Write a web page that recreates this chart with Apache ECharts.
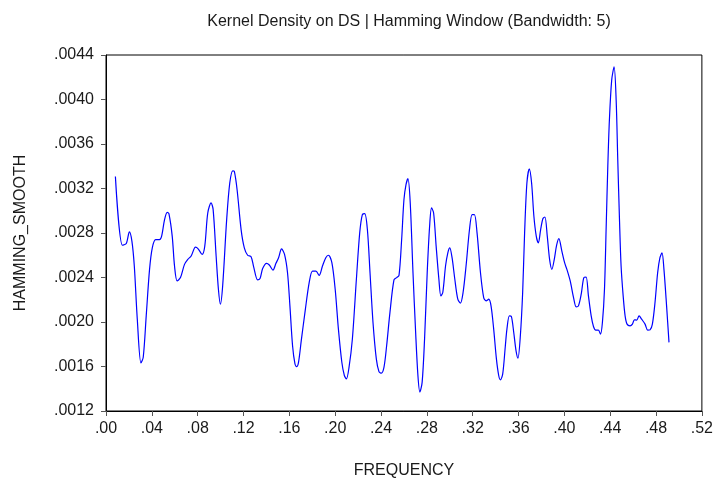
<!DOCTYPE html>
<html>
<head>
<meta charset="utf-8">
<script src="https://cdn.jsdelivr.net/npm/echarts@6/dist/echarts.min.js"></script>
<style>
  html, body { margin: 0; padding: 0; background: #fff; }
  #chart { width: 716px; height: 484px; }
</style>
</head>
<body>
<div id="chart"></div>
<script>
// Smoothed spectral density (Hamming window) against frequency
const frequency = [
  0.0082, 0.0143, 0.0177, 0.0204, 0.0226, 0.0247, 0.0273, 0.0305, 0.0325, 0.0351,
  0.0380, 0.0404, 0.0433, 0.0467, 0.0485, 0.0511, 0.0534, 0.0549, 0.0578, 0.0598,
  0.0621, 0.0650, 0.0685, 0.0714, 0.0743, 0.0781, 0.0804, 0.0839, 0.0862, 0.0888,
  0.0917, 0.0935, 0.0961, 0.0981, 0.0998, 0.1018, 0.1053, 0.1080, 0.1106, 0.1120,
  0.1144, 0.1179, 0.1207, 0.1236, 0.1266, 0.1288, 0.1323, 0.1344, 0.1367, 0.1401,
  0.1425, 0.1457, 0.1483, 0.1506, 0.1532, 0.1558, 0.1584, 0.1605, 0.1628, 0.1649,
  0.1663, 0.1680, 0.1704, 0.1738, 0.1773, 0.1802, 0.1832, 0.1860, 0.1889, 0.1918,
  0.1941, 0.1971, 0.2000, 0.2028, 0.2058, 0.2080, 0.2098, 0.2121, 0.2150, 0.2185,
  0.2214, 0.2237, 0.2258, 0.2281, 0.2304, 0.2330, 0.2359, 0.2382, 0.2403, 0.2426,
  0.2449, 0.2478, 0.2513, 0.2537, 0.2557, 0.2580, 0.2600, 0.2618, 0.2635, 0.2655,
  0.2679, 0.2702, 0.2722, 0.2739, 0.2759, 0.2780, 0.2803, 0.2824, 0.2841, 0.2859,
  0.2881, 0.2905, 0.2922, 0.2939, 0.2963, 0.2983, 0.3000, 0.3020, 0.3044, 0.3070,
  0.3093, 0.3116, 0.3142, 0.3172, 0.3195, 0.3215, 0.3238, 0.3268, 0.3296, 0.3317,
  0.3340, 0.3360, 0.3383, 0.3407, 0.3427, 0.3442, 0.3462, 0.3485, 0.3499, 0.3520,
  0.3538, 0.3558, 0.3578, 0.3595, 0.3616, 0.3636, 0.3653, 0.3673, 0.3694, 0.3714,
  0.3734, 0.3755, 0.3773, 0.3793, 0.3813, 0.3830, 0.3851, 0.3871, 0.3891, 0.3912,
  0.3932, 0.3952, 0.3978, 0.4002, 0.4022, 0.4051, 0.4080, 0.4103, 0.4123, 0.4147,
  0.4170, 0.4190, 0.4210, 0.4234, 0.4254, 0.4274, 0.4297, 0.4315, 0.4332, 0.4350,
  0.4365, 0.4379, 0.4393, 0.4413, 0.4434, 0.4452, 0.4466, 0.4481, 0.4495, 0.4513,
  0.4530, 0.4547, 0.4573, 0.4594, 0.4611, 0.4631, 0.4652, 0.4674, 0.4704, 0.4727,
  0.4748, 0.4768, 0.4791, 0.4814, 0.4834, 0.4852, 0.4869, 0.4892, 0.4913
];

const hammingSmooth = [
  0.003308, 0.002690, 0.002706, 0.002810, 0.002727, 0.002503, 0.002026, 0.001632, 0.001683, 0.002055,
  0.002473, 0.002667, 0.002741, 0.002741, 0.002770, 0.002920, 0.002986, 0.002974, 0.002770, 0.002503,
  0.002369, 0.002399, 0.002518, 0.002563, 0.002593, 0.002673, 0.002658, 0.002607, 0.002682, 0.002980,
  0.003070, 0.003010, 0.002593, 0.002294, 0.002160, 0.002324, 0.002920, 0.003249, 0.003359, 0.003353,
  0.003189, 0.002831, 0.002667, 0.002600, 0.002587, 0.002498, 0.002378, 0.002390, 0.002480, 0.002527,
  0.002512, 0.002467, 0.002527, 0.002578, 0.002658, 0.002607, 0.002443, 0.002145, 0.001787, 0.001623,
  0.001599, 0.001638, 0.001832, 0.002100, 0.002354, 0.002458, 0.002458, 0.002419, 0.002503, 0.002578,
  0.002600, 0.002533, 0.002294, 0.001938, 0.001638, 0.001519, 0.001489, 0.001594, 0.001847, 0.002384,
  0.002801, 0.002966, 0.002974, 0.002831, 0.002443, 0.001996, 0.001668, 0.001554, 0.001540, 0.001594,
  0.001787, 0.002086, 0.002378, 0.002399, 0.002419, 0.002741, 0.003099, 0.003234, 0.003288, 0.003070,
  0.002443, 0.001908, 0.001519, 0.001370, 0.001460, 0.001847, 0.002443, 0.002860, 0.003025, 0.002980,
  0.002682, 0.002384, 0.002235, 0.002265, 0.002503, 0.002622, 0.002667, 0.002578, 0.002384, 0.002205,
  0.002170, 0.002265, 0.002503, 0.002831, 0.002966, 0.002966, 0.002801, 0.002443, 0.002220, 0.002190,
  0.002205, 0.002145, 0.001938, 0.001668, 0.001519, 0.001480, 0.001533, 0.001787, 0.001938, 0.002055,
  0.002049, 0.001908, 0.001743, 0.001675, 0.001878, 0.002265, 0.002801, 0.003249, 0.003377, 0.003249,
  0.002951, 0.002770, 0.002712, 0.002831, 0.002930, 0.002944, 0.002770, 0.002563, 0.002473, 0.002563,
  0.002688, 0.002749, 0.002637, 0.002533, 0.002473, 0.002369, 0.002220, 0.002136, 0.002145, 0.002250,
  0.002399, 0.002404, 0.002235, 0.002055, 0.001960, 0.001927, 0.001927, 0.001891, 0.001996, 0.002294,
  0.002860, 0.003398, 0.003816, 0.004174, 0.004293, 0.003994, 0.003457, 0.002920, 0.002503, 0.002235,
  0.002055, 0.001981, 0.001966, 0.001981, 0.002020, 0.002017, 0.002055, 0.002026, 0.001981, 0.001927,
  0.001930, 0.001981, 0.002175, 0.002443, 0.002578, 0.002622, 0.002473, 0.002145, 0.001817
];

const xMin = 0, xMax = 0.52, xStep = 0.04;
const yMin = 0.0012, yMax = 0.0044, yStep = 0.0004;

const points = frequency.map((f, i) => [f, hammingSmooth[i]]);
const dropLeadingZero = (s) => s.replace(/^0\./, '.');
const textColor = '#1a1a1a';
const font = 'Liberation Sans, Arial, sans-serif';

const chart = echarts.init(document.getElementById('chart'), null, { renderer: 'canvas' });
chart.setOption({
  animation: false,
  backgroundColor: '#ffffff',
  title: {
    text: 'Kernel Density on DS | Hamming Window (Bandwidth: 5)',
    left: 404,
    textAlign: 'center',
    top: 9,
    textStyle: { fontFamily: font, fontSize: 16, fontWeight: 'normal', color: textColor }
  },
  grid: {
    left: 106, right: 12, top: 55, bottom: 72,
    show: true, borderColor: '#000', borderWidth: 1, backgroundColor: 'transparent'
  },
  xAxis: {
    type: 'value',
    min: xMin, max: xMax, interval: xStep,
    name: 'FREQUENCY',
    nameLocation: 'middle',
    nameGap: 52,
    nameTextStyle: { fontFamily: font, fontSize: 16, color: textColor },
    axisLine: { show: true, onZero: false, lineStyle: { color: '#000', width: 1 } },
    axisTick: { show: true, inside: false, length: 5, lineStyle: { color: '#555' } },
    axisLabel: {
      fontFamily: font, fontSize: 16, color: textColor, margin: 10,
      formatter: (v) => dropLeadingZero(v.toFixed(2))
    },
    splitLine: { show: false }
  },
  yAxis: {
    type: 'value',
    min: yMin, max: yMax, interval: yStep,
    name: 'HAMMING_SMOOTH',
    nameLocation: 'middle',
    nameGap: 77,
    nameTextStyle: { fontFamily: font, fontSize: 16, color: textColor },
    axisLine: { show: true, onZero: false, lineStyle: { color: '#000', width: 1 } },
    axisTick: { show: true, inside: false, length: 5, lineStyle: { color: '#555' } },
    axisLabel: {
      fontFamily: font, fontSize: 16, color: textColor, margin: 12,
      formatter: (v) => dropLeadingZero(v.toFixed(4))
    },
    splitLine: { show: false }
  },
  series: [{
    type: 'line',
    data: points,
    showSymbol: false,
    smooth: 0.3,
    lineStyle: { color: '#0000ff', width: 1.2 },
    itemStyle: { color: '#0000ff' }
  }]
});
</script>
</body>
</html>
